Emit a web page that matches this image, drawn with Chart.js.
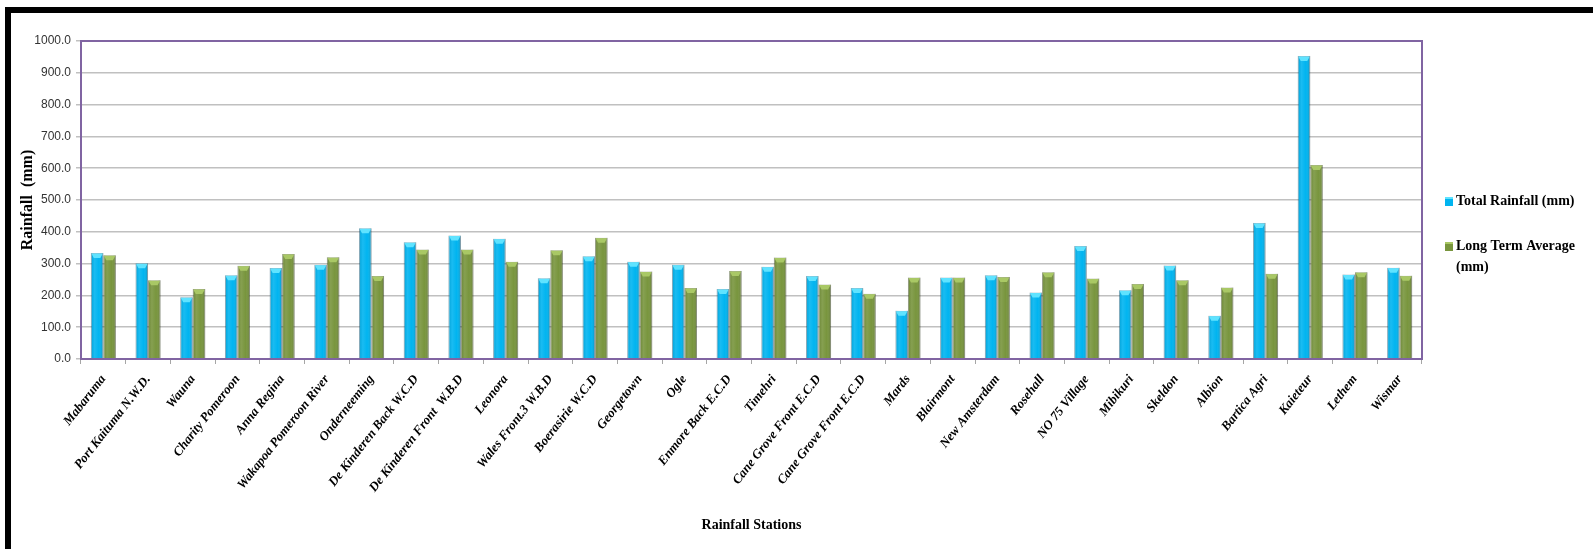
<!DOCTYPE html>
<html>
<head>
<meta charset="utf-8">
<title>Rainfall Stations</title>
<script src="https://cdn.jsdelivr.net/npm/chart.js@4.4.1/dist/chart.umd.min.js"></script>
<style>
  html, body { margin: 0; padding: 0; background: #fff; }
  #wrap { position: relative; width: 1593px; height: 549px; overflow: hidden; }
  #frame { position: absolute; left: 5px; top: 7px; right: -20px; bottom: -20px;
           border-top: 6px solid #000; border-left: 6px solid #000; pointer-events: none; }
  #rain { position: absolute; left: 0; top: 0; }
</style>
</head>
<body>
<div id="wrap">
  <canvas id="rain" width="1593" height="549"></canvas>
  <div id="frame"></div>
</div>
<script>
// stations along the x axis
const stations = [
  "Mabaruma", "Port Kaituma N.W.D.", "Wauna", "Charity Pomeroon", "Anna Regina",
  "Wakapoa Pomeroon River", "Onderneeming", "De Kinderen Back W.C.D", "De Kinderen Front  W.B.D", "Leonora",
  "Wales Front.3 W.B.D", "Boerasirie W.C.D", "Georgetown", "Ogle", "Enmore Back E.C.D",
  "Timehri", "Cane Grove Front E.C.D", "Cane Grove Front E.C.D", "Mards", "Blairmont",
  "New Amsterdam", "Rosehall", "NO 75 Village", "Mibikuri", "Skeldon",
  "Albion", "Bartica Agri", "Kaieteur", "Lethem", "Wismar",
]

// monthly totals (mm)
const totalRainfall = [
  333, 301, 194, 263, 286,
  296, 411, 367, 388, 378,
  254, 323, 306, 296, 220,
  290, 261, 223, 152, 256,
  263, 209, 355, 216, 294,
  136, 428, 953, 266, 287,
]

// long term average (mm)
const longTermAverage = [
  326, 248, 220, 293, 330,
  320, 261, 344, 344, 306,
  342, 381, 275, 223, 277,
  319, 234, 205, 256, 256,
  258, 273, 253, 236, 248,
  225, 268, 610, 273, 262,
]

const yMin = 0
const yMax = 1000
const yStep = 100

// lighter top face and side shading on each bar
const barShading = {
  id: "barShading",
  afterDatasetsDraw(chart) {
    const ctx = chart.ctx
    ctx.save()
    chart.data.datasets.forEach((ds, i) => {
      chart.getDatasetMeta(i).data.forEach((bar) => {
        const left = bar.x - bar.width / 2
        const right = bar.x + bar.width / 2
        const top = bar.y
        const h = bar.base - bar.y
        const g = ctx.createLinearGradient(left, 0, right, 0)
        g.addColorStop(0, "rgba(0,0,0,0.10)")
        g.addColorStop(0.3, "rgba(255,255,255,0.10)")
        g.addColorStop(0.65, "rgba(255,255,255,0)")
        g.addColorStop(1, "rgba(0,0,0,0.22)")
        ctx.fillStyle = g
        ctx.fillRect(left, top, bar.width, h)
        ctx.fillStyle = ds.capColor
        ctx.beginPath()
        ctx.moveTo(left + 0.5, top + 0.5)
        ctx.lineTo(right - 0.5, top + 0.5)
        ctx.lineTo(right - 3, top + 5)
        ctx.lineTo(left + 3, top + 5)
        ctx.closePath()
        ctx.fill()
      })
    })
    ctx.restore()
  },
}

// purple frame round the plot area
const plotFrame = {
  id: "plotFrame",
  afterDatasetsDraw(chart) {
    const { ctx, chartArea: a } = chart
    ctx.save()
    ctx.strokeStyle = "#8064A2"
    ctx.lineWidth = 2
    ctx.strokeRect(a.left, a.top, a.right - a.left, a.bottom - a.top)
    ctx.restore()
  },
}

// legend on the right, labels wrapped to a fixed width
const sideLegend = {
  id: "sideLegend",
  afterDraw(chart, args, opts) {
    const ctx = chart.ctx
    ctx.save()
    ctx.font = opts.font
    ctx.textBaseline = "middle"
    ctx.fillStyle = "#000"
    chart.data.datasets.forEach((ds, i) => {
      const words = ds.label.split(" ")
      const lines = []
      let line = ""
      words.forEach((w) => {
        const test = line ? line + " " + w : w
        if (line && ctx.measureText(test).width > opts.maxWidth) {
          lines.push(line)
          line = w
        } else {
          line = test
        }
      })
      lines.push(line)
      const y = opts.top[i]
      ctx.fillStyle = ds.backgroundColor
      ctx.fillRect(opts.x, y - 4, 8, 9)
      ctx.fillStyle = ds.capColor
      ctx.fillRect(opts.x, y - 4, 8, 2)
      ctx.fillStyle = "#000"
      lines.forEach((t, k) => ctx.fillText(t, opts.x + 11, y + k * opts.lineHeight))
    })
    ctx.restore()
  },
}

new Chart(document.getElementById("rain"), {
  type: "bar",
  data: {
    labels: stations,
    datasets: [
      {
        label: "Total Rainfall (mm)",
        data: totalRainfall,
        backgroundColor: "#00B4F0",
        borderColor: "rgba(0,90,130,0.45)",
        borderWidth: 1,
        capColor: "#5FE3FF",
      },
      {
        label: "Long Term Average (mm)",
        data: longTermAverage,
        backgroundColor: "#78953D",
        borderColor: "rgba(60,80,20,0.5)",
        borderWidth: 1,
        capColor: "#A9C865",
      },
    ],
  },
  options: {
    responsive: false,
    animation: false,
    categoryPercentage: 0.56,
    barPercentage: 1,
    layout: {
      padding: { left: 12, top: 41, right: 171, bottom: 0 },
    },
    plugins: {
      legend: { display: false },
      tooltip: { enabled: false },
      sideLegend: {
        x: 1445,
        top: [201, 246],
        lineHeight: 21,
        maxWidth: 125,
        font: "bold 14px 'Liberation Serif', serif",
      },
    },
    scales: {
      x: {
        afterFit: (s) => { s.height = 190 },
        grid: {
          drawOnChartArea: false,
          tickLength: 5,
          color: "#a6a6a6",
        },
        border: { display: false },
        ticks: {
          autoSkip: false,
          minRotation: 52,
          maxRotation: 52,
          padding: 8,
          color: "#000",
          font: { family: "'Liberation Serif', serif", size: 13, weight: "bold", style: "italic" },
        },
        title: {
          display: true,
          text: "Rainfall Stations",
          color: "#000",
          padding: { top: 0, bottom: 15 },
          font: { family: "'Liberation Serif', serif", size: 14, weight: "bold" },
        },
      },
      y: {
        min: yMin,
        max: yMax,
        afterFit: (s) => { s.width = 69 },
        grid: {
          color: "#c0c0c0",
          lineWidth: 1.5,
          tickLength: 5,
        },
        border: { display: false },
        ticks: {
          stepSize: yStep,
          padding: 5,
          color: "#333",
          font: { family: "'Liberation Sans Narrow', 'Liberation Sans', sans-serif", size: 12 },
          callback: (v) => v.toFixed(1),
        },
        title: {
          display: true,
          text: "Rainfall  (mm)",
          color: "#000",
          padding: { top: 6, bottom: 0 },
          font: { family: "'Liberation Serif', serif", size: 16, weight: "bold" },
        },
      },
    },
  },
  plugins: [barShading, plotFrame, sideLegend],
})
</script>
</body>
</html>
